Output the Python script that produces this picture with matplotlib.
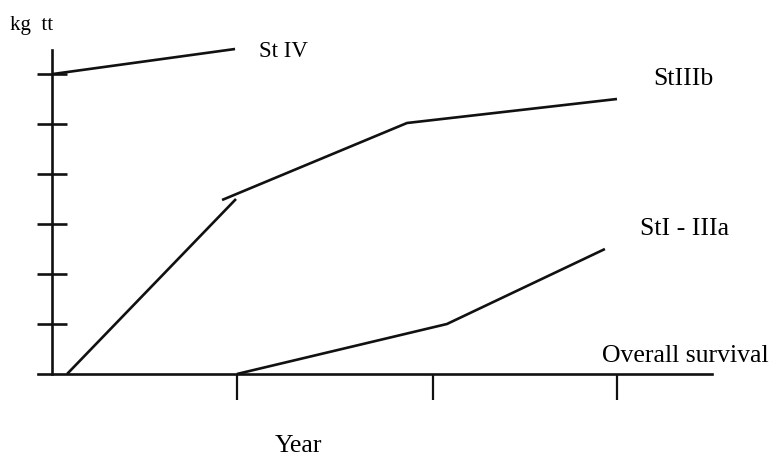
import matplotlib
matplotlib.use("Agg")
import matplotlib.pyplot as plt

plt.rcParams['font.family'] = ['Liberation Serif', 'DejaVu Serif']

# données (x : années, y : unités de l'axe)
st4_x = [0.005, 0.972]
st4_y = [6.0, 6.5]
st3b_bas_x = [0.08, 0.977]
st3b_bas_y = [0.0, 3.5]
st3b_haut_x = [0.903, 1.885, 3.0]
st3b_haut_y = [3.48, 5.02, 5.5]
st1_x = [0.982, 2.097, 2.936]
st1_y = [0.0, 1.0, 2.5]

xticks = [0.982, 2.023, 3.0]
yticks = [1, 2, 3, 4, 5, 6]

fig = plt.figure(figsize=(7.75, 4.61), dpi=100)
ax = fig.add_axes([52/775, 87/461, 660/775, 324/461])
ax.set_xlim(0, 3.5045)
ax.set_ylim(0, 6.48)

trait = dict(color="#111111", lw=1.9, solid_capstyle="butt", clip_on=False)
ax.plot(st4_x, st4_y, **trait)
ax.plot(st3b_bas_x, st3b_bas_y, **trait)
ax.plot(st3b_haut_x, st3b_haut_y, **trait)
ax.plot(st1_x, st1_y, **trait)

########## axes ##########
for s in ["top", "right"]:
    ax.spines[s].set_visible(False)
for s in ["left", "bottom"]:
    ax.spines[s].set_linewidth(1.9)
    ax.spines[s].set_color("#111111")
ax.spines["bottom"].set_bounds(-0.074, 3.5045)
ax.set_xticks(xticks)
ax.set_yticks(yticks)
ax.set_xticklabels([])
ax.set_yticklabels([])
ax.tick_params(axis="y", direction="inout", length=21, width=1.9, color="#111111")
ax.tick_params(axis="x", direction="out", length=18.5, width=1.6, color="#111111")

########## textes ##########
ax.text(-0.223, 6.88, "kg  tt", fontsize=15, va="baseline")
ax.text(1.099, 6.34, "St IV", fontsize=16.5, va="baseline")
ax.text(3.191, 5.78, "StIIIb", fontsize=18.5, va="baseline")
ax.text(3.122, 2.78, "StI - IIIa", fontsize=18.5, va="baseline")
ax.text(2.92, 0.24, "Overall survival", fontsize=18.5, va="baseline")
ax.text(1.184, -1.56, "Year", fontsize=18.5, va="baseline")

fig.savefig("out.png", dpi=100)
plt.close()
